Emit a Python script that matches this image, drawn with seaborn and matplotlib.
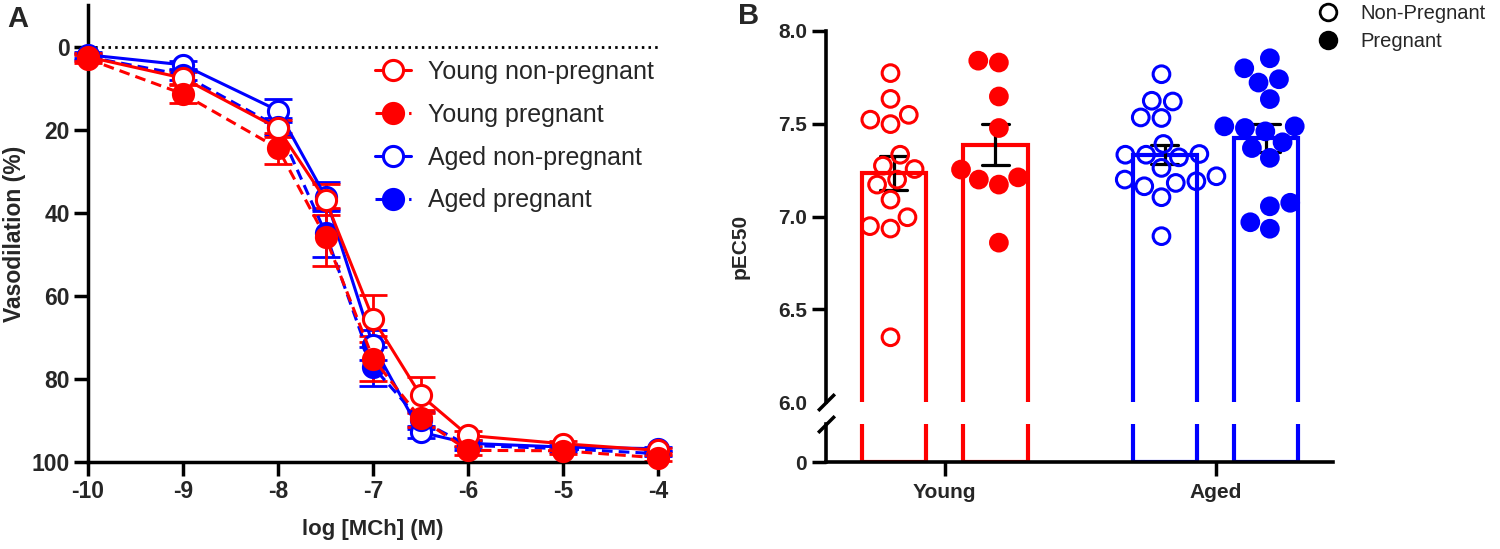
import matplotlib
matplotlib.use("Agg")
import numpy as np
import pandas as pd
import matplotlib.pyplot as plt
from matplotlib.lines import Line2D
import seaborn as sns

sns.set_theme(style="ticks")
plt.rcParams['font.family'] = ['Liberation Sans', 'DejaVu Sans']
plt.rcParams['font.weight'] = 'bold'
plt.rcParams['axes.unicode_minus'] = False

RED = '#ff0000'
BLUE = '#0000ff'

# ---- panel A : concentration-response curves (mean +/- SEM) ----
log_mch = [-10, -9, -8, -7.5, -7, -6.5, -6, -5, -4]
young_np_mean = [2.5, 7.6, 19.7, 36.9, 65.5, 83.9, 93.6, 95.6, 97.2]
young_np_sem = [1.0, 1.5, 2.0, 3.7, 5.7, 4.3, 1.0, 0.7, 0.6]
young_p_mean = [3.0, 11.4, 24.5, 45.9, 75.1, 89.5, 97.2, 97.3, 99.0]
young_p_sem = [1.0, 2.2, 3.8, 7.0, 5.4, 2.0, 1.0, 0.8, 0.8]
aged_np_mean = [2.0, 4.4, 15.4, 36.1, 71.9, 92.8, 95.5, 96.4, 96.8]
aged_np_sem = [0.8, 1.0, 2.8, 3.6, 3.6, 1.5, 0.8, 0.6, 0.5]
aged_p_mean = [2.5, 6.8, 19.3, 44.9, 77.1, 90.0, 96.0, 96.8, 98.0]
aged_p_sem = [0.8, 1.2, 2.0, 5.8, 4.7, 2.0, 1.0, 0.7, 0.6]

# ---- panel B : individual pEC50 values ----
ages = ['Young', 'Aged']
statuses = ['Non-Pregnant', 'Pregnant']
young_np_pec50 = [7.773, 7.634, 7.522, 7.548, 7.498, 7.333, 7.274, 7.256, 7.172,
                  7.199, 7.091, 6.996, 6.935, 6.948, 6.349]
young_p_pec50 = [7.830, 7.840, 7.647, 7.477, 7.211, 7.253, 7.199, 7.172, 6.859]
aged_np_pec50 = [7.767, 7.620, 7.624, 7.534, 7.531, 7.391, 7.333, 7.319, 7.337,
                 7.333, 7.262, 7.217, 7.181, 7.190, 7.199, 7.163, 7.104, 6.894]
aged_p_pec50 = [7.853, 7.740, 7.799, 7.722, 7.633, 7.486, 7.459, 7.477, 7.486,
                7.400, 7.369, 7.316, 7.055, 7.074, 6.934, 6.969]

rows = []
for age, status, vals in [('Young', 'Non-Pregnant', young_np_pec50),
                          ('Young', 'Pregnant', young_p_pec50),
                          ('Aged', 'Non-Pregnant', aged_np_pec50),
                          ('Aged', 'Pregnant', aged_p_pec50)]:
    for v in vals:
        rows.append({'age': age, 'status': status, 'pEC50': v})
pec50 = pd.DataFrame(rows)

fig = plt.figure(figsize=(15, 5.49), dpi=100)
W, H = 1500, 549

# ================= Panel A =================
axA = fig.add_axes([88 / W, 87 / H, 570 / W, 457 / H])
axA.axhline(0, color='black', lw=2, linestyle=(0, (0.9, 1.5)), zorder=1)

curves = [
    ('Aged non-pregnant', aged_np_mean, aged_np_sem, BLUE, '-', 'white'),
    ('Aged pregnant', aged_p_mean, aged_p_sem, BLUE, (0, (3.5, 2)), BLUE),
    ('Young non-pregnant', young_np_mean, young_np_sem, RED, '-', 'white'),
    ('Young pregnant', young_p_mean, young_p_sem, RED, (0, (3.5, 2)), RED),
]
for name, mean, sem, color, ls, face in curves:
    axA.errorbar(log_mch, mean, yerr=sem, fmt='none', ecolor=color,
                 elinewidth=2, capsize=10, capthick=2, zorder=2, clip_on=False)
    sns.lineplot(x=log_mch, y=mean, ax=axA, color=color, linestyle=ls,
                 linewidth=2.2, marker='o', markersize=14.5,
                 markerfacecolor=face, markeredgecolor=color,
                 markeredgewidth=2.2, label=name, clip_on=False, zorder=3)

axA.set_xlim(-10, -4)
axA.set_ylim(100, -10)
axA.set_xticks([-10, -9, -8, -7, -6, -5, -4])
axA.set_xticklabels(['-10', '-9', '-8', '-7', '-6', '-5', '-4'])
axA.set_yticks([0, 20, 40, 60, 80, 100])
axA.tick_params(width=2.5, length=10, labelsize=16.5, pad=3, color='black')
sns.despine(ax=axA)
for sp in ['left', 'bottom']:
    axA.spines[sp].set_linewidth(2.5)
    axA.spines[sp].set_color('black')
axA.set_xlabel('log [MCh] (M)', fontsize=16, fontweight='bold')
axA.xaxis.set_label_coords(0.5, -0.125)
axA.set_ylabel('Vasodilation (%)', fontsize=16.5, fontweight='bold')
axA.yaxis.set_label_coords(-0.109, 0.5)

handles, labels = axA.get_legend_handles_labels()
order = ['Young non-pregnant', 'Young pregnant', 'Aged non-pregnant', 'Aged pregnant']
hmap = dict(zip(labels, handles))
axA.legend([hmap[k] for k in order], order, frameon=False, loc='upper left',
           bbox_to_anchor=(375 / W, 1 - 60 / H), bbox_transform=fig.transFigure,
           borderaxespad=0, borderpad=0, handlelength=1.45, handletextpad=0.65,
           labelspacing=0.75, prop={'size': 18, 'weight': 'normal'})

# ================= Panel B (broken y axis) =================
axT = fig.add_axes([826 / W, (H - 402) / H, 507 / W, 371 / H])
axL = fig.add_axes([826 / W, 87 / H, 507 / W, 38 / H])

for ax, show_err in [(axT, True), (axL, False)]:
    for age, color in [('Young', RED), ('Aged', BLUE)]:
        sub = pec50[pec50['age'] == age]
        sns.barplot(data=sub, x='age', y='pEC50', hue='status', order=ages,
                    hue_order=statuses, palette=[color, color], fill=False,
                    linewidth=3, width=0.75, gap=0.37,
                    errorbar='se' if show_err else None, capsize=0.2,
                    err_kws={'color': 'black', 'linewidth': 2.3},
                    legend=False, ax=ax)

for age, color in [('Young', RED), ('Aged', BLUE)]:
    sub = pec50[pec50['age'] == age]
    n_before = len(axT.collections)
    sns.swarmplot(data=sub, x='age', y='pEC50', hue='status', order=ages,
                  hue_order=statuses, palette={'Non-Pregnant': 'white', 'Pregnant': color},
                  edgecolor=color, linewidth=2.2, size=12, dodge=True,
                  legend=False, ax=axT)
    for coll in axT.collections[n_before:]:
        fc = coll.get_facecolor()
        if len(fc) and np.allclose(fc[0][:3], 1.0):
            coll.set_facecolor('none')

for ax in (axT, axL):
    ax.set_xlim(-0.438, 1.433)
    ax.set_xlabel('')
    ax.set_ylabel('')
    ax.tick_params(width=2.5, length=10, labelsize=15, color='black')
    for sp in ax.spines.values():
        sp.set_linewidth(2.6)
        sp.set_color('black')
        sp.set_zorder(5)

axT.set_ylim(6.0, 8.0)
axT.set_yticks([6.0, 6.5, 7.0, 7.5, 8.0])
axT.set_yticklabels(['6.0', '6.5', '7.0', '7.5', '8.0'])
axT.yaxis.get_major_ticks()[0].tick1line.set_visible(False)
axT.set_xticks([])
sns.despine(ax=axT, bottom=True)

axL.set_ylim(0, 1)
axL.set_yticks([0])
axL.set_yticklabels(['0'])
axL.tick_params(axis='x', pad=5)
sns.despine(ax=axL)

slash = dict(marker=[(-1, -1), (1, 1)], markersize=12, markeredgewidth=2.5,
             color='black', linestyle='none', clip_on=False)
axT.plot([0], [0], transform=axT.transAxes, **slash)
axL.plot([0], [1], transform=axL.transAxes, **slash)

fig.text(740 / W, 1 - 246 / H, 'pEC50', rotation=90, ha='center', va='center',
         fontsize=15, fontweight='bold')

leg_handles = [
    Line2D([], [], linestyle='none', marker='o', markersize=12,
           markerfacecolor='none', markeredgecolor='black', markeredgewidth=2),
    Line2D([], [], linestyle='none', marker='o', markersize=12,
           markerfacecolor='black', markeredgecolor='black', markeredgewidth=2),
]
fig.legend(leg_handles, statuses, frameon=False, loc='upper left',
           bbox_to_anchor=(1318 / W, 1 - 4 / H), borderaxespad=0, borderpad=0,
           handlelength=1.0, handletextpad=1.1, labelspacing=0.45,
           prop={'size': 14.5, 'weight': 'normal'})

fig.text(18 / W, 1 - 19 / H, 'A', ha='center', va='center', fontsize=21, fontweight='bold')
fig.text(749 / W, 1 - 16 / H, 'B', ha='center', va='center', fontsize=21, fontweight='bold')

fig.savefig('out.png', dpi=100)
